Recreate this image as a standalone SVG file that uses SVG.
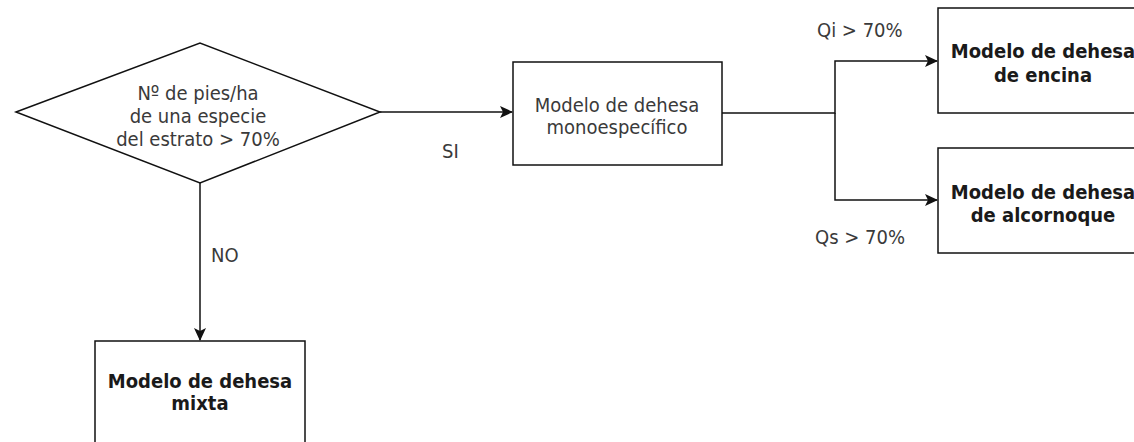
<svg xmlns="http://www.w3.org/2000/svg" width="1134" height="442" viewBox="0 0 1134 442">
<defs>
<style>
.shape{fill:#fff;stroke:#111;stroke-width:1.5}
.edge{fill:none;stroke:#111;stroke-width:1.5}
text{font-family:'DejaVu Sans Condensed','DejaVu Sans',sans-serif;font-size:20px;fill:#3a3a3a;font-stretch:condensed}
.c{text-anchor:middle}
.b{font-weight:bold;fill:#1a1a1a}
</style>
<marker id="arr" viewBox="0 0 13 13" refX="12" refY="6.5" markerWidth="13" markerHeight="13" markerUnits="userSpaceOnUse" orient="auto">
<path d="M0,0.5 L13,6.5 L0,12.5 L3,6.5 Z" fill="#111"/>
</marker>
</defs>
<rect width="1134" height="442" fill="#fff"/>
<g id="connectors">
<path class="edge" d="M380,112 L512,112" marker-end="url(#arr)"/>
<path class="edge" d="M722,113 L835,113 L835,61 L937,61" marker-end="url(#arr)"/>
<path class="edge" d="M835,113 L835,200 L937,200" marker-end="url(#arr)"/>
<path class="edge" d="M200,183 L200,340" marker-end="url(#arr)"/>
<text x="442" y="158">SI</text>
<text x="211" y="262">NO</text>
<text x="817" y="37">Qi &gt; 70%</text>
<text x="815" y="244">Qs &gt; 70%</text>
</g>
<g id="decision">
<polygon class="shape" points="16,112 200,43 380,112 200,183"/>
<text class="c" x="198" y="100">Nº de pies/ha</text>
<text class="c" x="198" y="123">de una especie</text>
<text class="c" x="198" y="146">del estrato &gt; 70%</text>
</g>
<g id="mono">
<rect class="shape" x="513" y="62" width="209" height="103"/>
<text class="c" x="617" y="112">Modelo de dehesa</text>
<text class="c" x="617" y="134">monoespecífico</text>
</g>
<g id="encina">
<rect class="shape" x="938" y="8" width="210" height="105"/>
<text class="c b" x="1043" y="58">Modelo de dehesa</text>
<text class="c b" x="1043" y="82">de encina</text>
</g>
<g id="alcornoque">
<rect class="shape" x="938" y="148" width="210" height="105"/>
<text class="c b" x="1043" y="199">Modelo de dehesa</text>
<text class="c b" x="1043" y="222">de alcornoque</text>
</g>
<g id="mixta">
<rect class="shape" x="95" y="341" width="210" height="110"/>
<text class="c b" x="200" y="388">Modelo de dehesa</text>
<text class="c b" x="200" y="410">mixta</text>
</g>
</svg>
